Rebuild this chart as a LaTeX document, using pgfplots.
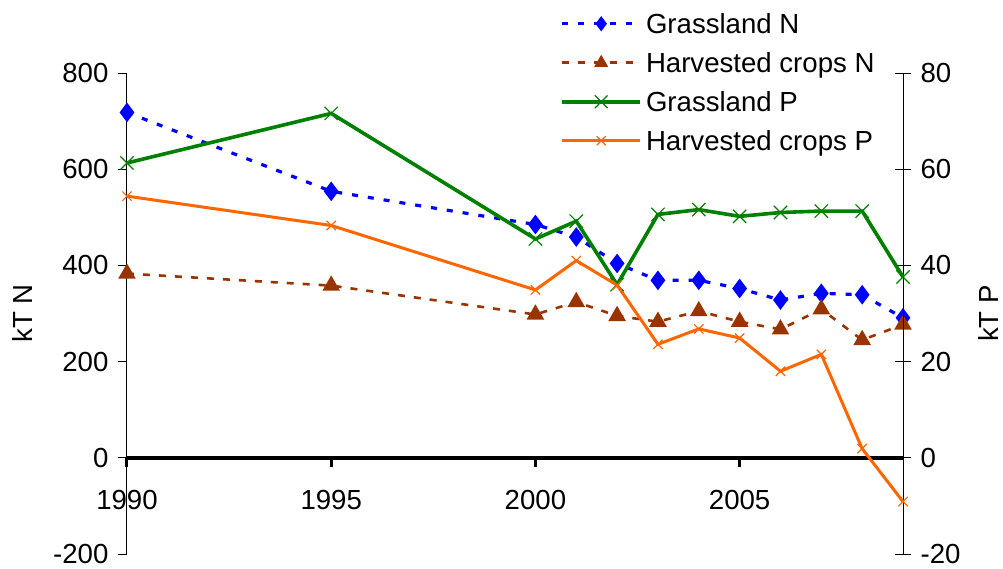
\documentclass[border=0pt]{standalone}
\usepackage{fontspec}
\setmainfont{Liberation Sans}
\usepackage{pgfplots}
\pgfplotsset{compat=1.18}
\definecolor{gN}{RGB}{0,0,255}
\definecolor{hN}{RGB}{153,51,0}
\definecolor{gP}{RGB}{0,128,0}
\definecolor{hP}{RGB}{255,102,0}
\begin{document}
\fontsize{13.8bp}{16.5bp}\selectfont
\begin{tikzpicture}
\pgfplotsset{
  common/.style={
    scale only axis, width=388bp, height=240.5bp,
    xmin=1990, xmax=2009,
    font=\fontsize{13.8bp}{16.5bp}\selectfont,
    /pgf/number format/assume math mode=true,
    /pgf/number format/1000 sep={},
    hide obscured x ticks=false, hide obscured y ticks=false,
    clip=false,
  },
  gNs/.style={color=gN, line width=1.6bp, dash pattern=on 3bp off 5bp, mark=diamond*, mark size=3.6bp, mark options={solid, fill=gN}},
  hNs/.style={color=hN, line width=1.3bp, dash pattern=on 3.5bp off 4.5bp, mark=triangle*, mark size=3.8bp, mark options={solid, fill=hN}},
  gPs/.style={color=gP, line width=1.8bp, solid, mark=x, mark size=4.7bp, mark options={solid, line width=0.6bp}},
  hPs/.style={color=hP, line width=1.5bp, solid, mark=x, mark size=3.3bp, mark options={solid, line width=0.6bp}},
}
\begin{axis}[common, name=ax,
  ymin=-200, ymax=800, ytick={-200,0,200,400,600,800},
  axis x line*=middle, axis y line*=left,
  xtick={1990,1995,2000,2005},
  x axis line style={line width=2bp, -},
  y axis line style={line width=0.5bp, -},
  x tick style={line width=1.5bp, black},
  y tick style={line width=0.5bp, black},
  xtick align=outside, ytick align=outside,
  major tick length=4.5bp,
  xticklabel style={yshift=-7bp},
  every axis y label/.style={at={(axis description cs:-0.1353,0.5)}, rotate=90, anchor=center},
  ylabel={kT N},
  legend style={at={(axis description cs:0.558,1.124)}, anchor=north west, draw=none, fill=none, inner sep=0pt, row sep=6.5bp, column sep=2bp, nodes={inner sep=0pt, text height=10bp, text depth=3bp, anchor=base west}},
  legend cell align=left,
  legend image code/.code={\draw[mark repeat=2,mark phase=2,#1] plot coordinates {(0bp,5bp) (19.5bp,5bp) (39bp,5bp)};},
]
\addlegendimage{gNs, mark size=2.5bp}
\addlegendentry{Grassland N}
\addlegendimage{hNs, mark size=2.7bp}
\addlegendentry{Harvested crops N}
\addlegendimage{gPs, mark size=4.5bp}
\addlegendentry{Grassland P}
\addlegendimage{hPs, mark size=3.2bp}
\addlegendentry{Harvested crops P}
\addplot[gNs, forget plot] coordinates {(1990,718) (1995,554) (2000,485) (2001,459) (2002,404) (2003,369) (2004,369) (2005,352) (2006,328) (2007,342) (2008,339) (2009,291)};
\addplot[hNs, forget plot] coordinates {(1990,383) (1995,358) (2000,298) (2001,324) (2002,295) (2003,283) (2004,305) (2005,283) (2006,267) (2007,309) (2008,245) (2009,277)};
\end{axis}
\begin{axis}[common,
  ymin=-20, ymax=80, ytick={-20,0,20,40,60,80},
  axis x line=none, axis y line*=right,
  y axis line style={line width=0.5bp, -},
  y tick style={line width=0.5bp, black},
  ytick align=center, major tick length=8bp,
  every axis y label/.style={at={(axis description cs:1.1108,0.5)}, rotate=90, anchor=center},
  ylabel={kT P},
]
\addplot[gPs] coordinates {(1990,61.3) (1995,71.6) (2000,45.5) (2001,49.2) (2002,36.0) (2003,50.6) (2004,51.6) (2005,50.2) (2006,51.0) (2007,51.3) (2008,51.3) (2009,37.6)};
\addplot[hPs] coordinates {(1990,54.4) (1995,48.3) (2000,34.9) (2001,41.0) (2002,35.9) (2003,23.6) (2004,26.8) (2005,24.9) (2006,18.0) (2007,21.5) (2008,1.9) (2009,-9.1)};
\end{axis}
\pgfresetboundingbox
\useasboundingbox ([shift={(-63.5bp,-7bp)}]ax.south west) rectangle ([shift={(50bp,36.5bp)}]ax.north east);
\end{tikzpicture}
\end{document}
